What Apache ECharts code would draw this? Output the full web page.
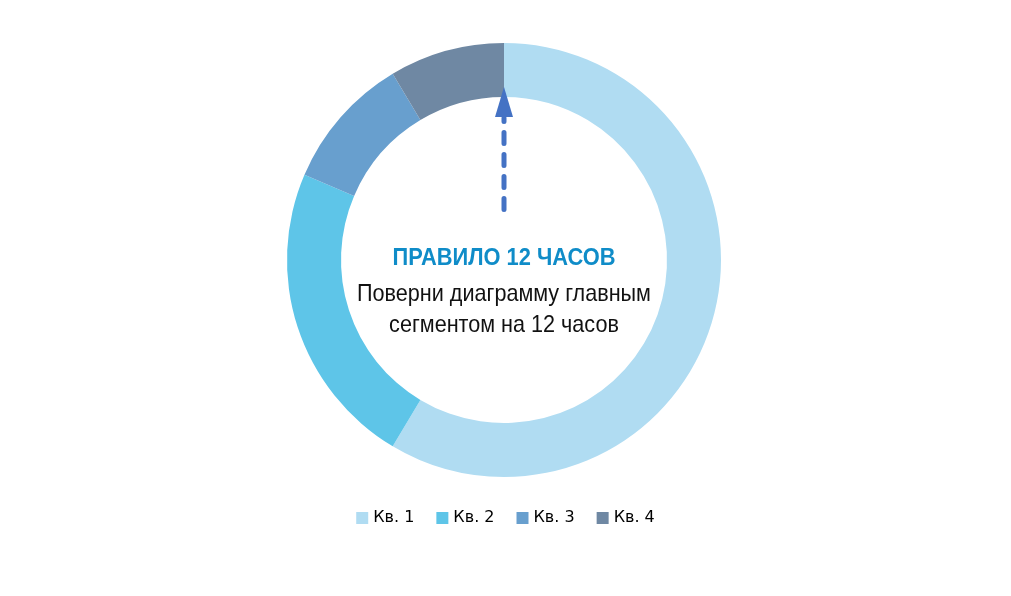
<!DOCTYPE html>
<html>
<head>
<meta charset="utf-8">
<script src="https://cdn.jsdelivr.net/npm/echarts@6/dist/echarts.min.js"></script>
<style>
  html, body { margin: 0; padding: 0; background: #fff; }
  #main { width: 1011px; height: 596px; }
</style>
</head>
<body>
<div id="main"></div>
<script>
// данные по кварталам
const categories = ['Кв. 1', 'Кв. 2', 'Кв. 3', 'Кв. 4'];
const values = [8.2, 3.2, 1.4, 1.2];
const colors = ['#B0DCF2', '#5EC5E8', '#689FCE', '#6F88A3'];

const cx = 504, cy = 260;
const narrowFont = '"Liberation Sans", Arial, sans-serif';

var chart = echarts.init(document.getElementById('main'));
chart.setOption({
    animation: false,
    color: colors,
    legend: {
        data: categories,
        bottom: 65,
        left: 'center',
        icon: 'rect',
        itemWidth: 12,
        itemHeight: 12,
        itemGap: 22,
        textStyle: { fontFamily: 'DejaVu Sans', fontSize: 16, color: '#000' }
    },
    series: [
        {
            type: 'pie',
            center: [cx, cy],
            radius: [163, 217],
            startAngle: 90,
            clockwise: true,
            label: { show: false },
            labelLine: { show: false },
            emphasis: { disabled: true },
            data: categories.map((c, i) => ({ name: c, value: values[i] }))
        }
    ],
    graphic: [
        {
            type: 'line',
            z: 100,
            shape: { x1: cx, y1: 209.5, x2: cx, y2: 118 },
            style: { stroke: '#4472C4', lineWidth: 5, lineDash: [11, 11], lineCap: 'round' }
        },
        {
            type: 'polygon',
            z: 100,
            shape: { points: [[cx, 87], [cx - 9, 117], [cx + 9, 117]] },
            style: { fill: '#4472C4' }
        },
        {
            type: 'text',
            z: 100,
            x: cx, y: 258, scaleX: 0.91,
            style: {
                text: 'ПРАВИЛО 12 ЧАСОВ',
                fill: '#0F8CC8',
                font: 'bold 24px ' + narrowFont,
                align: 'center', verticalAlign: 'middle'
            }
        },
        {
            type: 'text',
            z: 100,
            x: cx, y: 294, scaleX: 0.9,
            style: {
                text: 'Поверни диаграмму главным',
                fill: '#111',
                font: '24px ' + narrowFont,
                align: 'center', verticalAlign: 'middle'
            }
        },
        {
            type: 'text',
            z: 100,
            x: cx, y: 325, scaleX: 0.9,
            style: {
                text: 'сегментом на 12 часов',
                fill: '#111',
                font: '24px ' + narrowFont,
                align: 'center', verticalAlign: 'middle'
            }
        }
    ]
});
</script>
</body>
</html>
